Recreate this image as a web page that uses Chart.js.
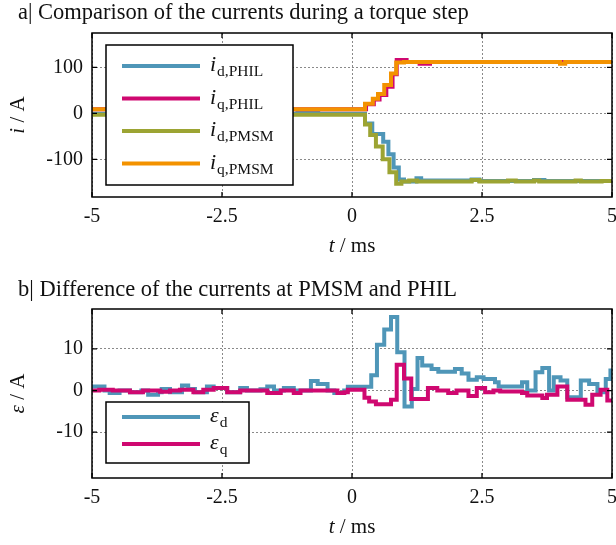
<!DOCTYPE html>
<html><head><meta charset="utf-8">
<script src="https://cdn.jsdelivr.net/npm/chart.js@4/dist/chart.umd.min.js"></script>
<style>
html,body{margin:0;padding:0;background:#fff;}
#wrap{position:relative;width:616px;height:545px;overflow:hidden;}
canvas{position:absolute;left:0;}
</style></head><body>
<div id="wrap">
<canvas id="ca" width="616" height="272" style="top:0"></canvas>
<canvas id="cb" width="616" height="273" style="top:272px"></canvas>
</div>
<script>
// ---------- data (time in ms, current in A) ----------
const xTickValues = [-5, -2.5, 0, 2.5, 5];
const xTickLabels = ['-5', '-2.5', '0', '2.5', '5'];
const yTicksA = [-100, 0, 100];
const yTicksB = [-10, 0, 10];

const titleA = 'a| Comparison of the currents during a torque step';
const titleB = 'b| Difference of the currents at PMSM and PHIL';

// panel a
const idPHIL_t = [-5, -1.05, -0.65, 0.25, 0.39, 0.60, 0.70, 0.80, 0.90, 1.00, 1.24, 1.33, 2.30, 2.45, 3.50, 3.70, 5];
const idPHIL_v = [-1, 2, -1, -22, -45, -62, -89, -118, -144, -148, -141, -146, -144, -147, -145, -147, -147];
const iqPHIL_t = [-5, 0.27, 0.42, 0.53, 0.66, 0.78, 0.86, 1.05, 1.30, 1.50, 5];
const iqPHIL_v = [9, 20, 30, 40, 58, 85, 116, 112, 108, 112, 112];
const idPMSM_t = [-5, 0.25, 0.35, 0.46, 0.59, 0.72, 0.85, 0.95, 1.10, 1.25, 2.30, 2.45, 3.00, 3.15, 3.50, 3.60, 4.30, 4.40, 4.80, 5];
const idPMSM_v = [-3, -24, -47, -72, -100, -128, -153, -148, -146, -148, -145, -148, -146, -148, -146, -148, -146, -148, -147, -147];
const iqPMSM_t = [-5, 0.25, 0.40, 0.50, 0.62, 0.75, 0.85, 1.00, 4.00, 4.10, 5];
const iqPMSM_v = [9, 21, 32, 42, 62, 87, 111, 112, 108, 112, 112];

// panel b
const epsD_t = [-5, -4.76, -4.66, -4.47, -4.27, -4.05, -3.92, -3.73, -3.66, -3.50, -3.27, -3.15, -3.02, -2.79, -2.66, -2.40, -2.15, -2.02, -1.76, -1.63, -1.50, -1.31, -1.12, -0.79, -0.66, -0.47, -0.34, -0.15, -0.08, 0.37, 0.48, 0.62, 0.75, 0.87, 1.01, 1.15, 1.26, 1.35, 1.53, 1.66, 1.98, 2.11, 2.24, 2.40, 2.53, 2.75, 2.82, 3.27, 3.37, 3.53, 3.66, 3.79, 3.88, 4.01, 4.14, 4.40, 4.56, 4.72, 4.88, 4.97, 5];
const epsD_v = [1.0, 0, -0.6, 0, -0.4, 0, -1.0, -0.4, 0.4, -0.4, 1.2, 0.4, -0.4, 1.0, 0.6, -0.4, 0.6, 0, 0.3, 1.0, 0, 0.6, 0, 2.3, 1.6, 0, -0.6, 0, 0.9, 3.7, 11, 14.7, 17.7, 9.2, -3.8, 0.4, 7.8, 6.0, 5.2, 4.5, 5.2, 4.1, 2.6, 3.2, 2.8, 2.0, 1.0, 2.0, 0, 4.4, 5.4, 0, 3.2, 2.4, -1.6, 2.4, 1.6, -0.4, 2.8, 4.8, 4.8];
const epsQ_t = [-5, -4.86, -4.60, -4.27, -4.02, -3.69, -3.50, -3.31, -3.05, -2.86, -2.66, -2.40, -2.15, -1.63, -1.37, -1.12, -0.99, -0.28, -0.15, -0.08, 0.24, 0.33, 0.46, 0.75, 0.86, 1.00, 1.14, 1.46, 1.64, 1.85, 2.01, 2.24, 2.40, 2.56, 2.72, 2.85, 3.27, 3.37, 3.66, 3.75, 3.95, 4.14, 4.49, 4.62, 4.78, 4.91, 5];
const epsQ_v = [0, 0.2, 0, -0.4, 0, -0.25, 0, 0.2, -0.4, 0.2, 0.6, -0.4, 0, -0.6, 0, -0.6, 0, -0.6, -0.4, 0.2, -1.7, -2.6, -3.3, -2.2, 6.2, 2.9, -2.0, 0.6, 0, -0.6, 0, -1.3, 0.6, -0.4, 0, -0.2, -0.6, -1.2, -1.8, -1.0, 1.0, -2.2, -3.4, -1.0, 0.2, -2.4, -2.4];

// ---------- styling ----------
const FONT = '"Liberation Serif", "Times New Roman", serif';
const C_BLUE = '#4f96b8', C_PINK = '#cf0870', C_OLIVE = '#9ca433', C_ORANGE = '#f39200';

function pts(ts, vs) { return ts.map((t, i) => ({x: t, y: vs[i]})); }

function ds(label, ts, vs, color, order) {
  return {label, data: pts(ts, vs), borderColor: color, backgroundColor: color,
    borderWidth: 4, pointRadius: 0, stepped: true, tension: 0, fill: false, order};
}

const deco = {
  id: 'deco',
  afterDraw(chart, args, o) {
    const ctx = chart.ctx, a = chart.chartArea;
    const xs = chart.scales.x, ys = chart.scales.y;
    ctx.save();
    ctx.strokeStyle = '#000'; ctx.lineWidth = 1.5;
    ctx.strokeRect(a.left, a.top, a.right - a.left, a.bottom - a.top);
    ctx.lineWidth = 1.3;
    ctx.beginPath();
    o.xTicks.forEach(v => { const p = xs.getPixelForValue(v);
      ctx.moveTo(p, a.top); ctx.lineTo(p, a.top + 5); ctx.moveTo(p, a.bottom); ctx.lineTo(p, a.bottom - 5); });
    o.yTicks.forEach(v => { const p = ys.getPixelForValue(v);
      ctx.moveTo(a.left, p); ctx.lineTo(a.left + 5, p); ctx.moveTo(a.right, p); ctx.lineTo(a.right - 5, p); });
    ctx.stroke();
    // legend
    const L = o.legend;
    ctx.fillStyle = '#fff'; ctx.fillRect(L.x, L.y, L.w, L.h);
    ctx.strokeStyle = '#000'; ctx.lineWidth = 1.5; ctx.strokeRect(L.x, L.y, L.w, L.h);
    L.items.forEach((it, i) => {
      const y = L.y + L.first + i * L.gap;
      ctx.strokeStyle = it.color; ctx.lineWidth = 4;
      ctx.beginPath(); ctx.moveTo(L.x + 16, y); ctx.lineTo(L.x + 94, y); ctx.stroke();
      ctx.fillStyle = '#111'; ctx.textBaseline = 'alphabetic'; ctx.textAlign = 'left';
      ctx.font = 'italic 22px ' + FONT;
      ctx.fillText(it.main, L.x + 104, y + 5);
      const w = ctx.measureText(it.main).width;
      ctx.font = '15.5px ' + FONT;
      ctx.fillText(it.sub, L.x + 104 + w + 1, y + 10);
    });
    // axis titles
    ctx.fillStyle = '#111'; ctx.textBaseline = 'middle'; ctx.textAlign = 'left';
    const drawMixed = (parts, cx, cy, rot) => {
      ctx.save(); ctx.translate(cx, cy); if (rot) ctx.rotate(-Math.PI / 2);
      let tw = 0;
      parts.forEach(p => { ctx.font = p.f; tw += ctx.measureText(p.t).width; });
      let x = -tw / 2;
      parts.forEach(p => { ctx.font = p.f; ctx.fillText(p.t, x, 0); x += ctx.measureText(p.t).width; });
      ctx.restore();
    };
    drawMixed([{t: 't', f: 'italic 21px ' + FONT}, {t: ' / ms', f: '21px ' + FONT}],
      (a.left + a.right) / 2, o.xTitleY, false);
    drawMixed([{t: o.yVar, f: 'italic 21px ' + FONT}, {t: ' / A', f: '21px ' + FONT}],
      18, (a.top + a.bottom) / 2, true);
    ctx.restore();
  }
};

function makeChart(id, title, datasets, yMin, yMax, yTicks, lay, decoOpts) {
  return new Chart(document.getElementById(id), {
    type: 'line',
    data: {datasets},
    plugins: [deco],
    options: {
      responsive: false, animation: false, devicePixelRatio: 1,
      layout: {padding: {left: 18, right: 4, top: lay.padTop, bottom: 0}},
      plugins: {
        legend: {display: false}, tooltip: {enabled: false},
        title: {display: true, text: title, align: 'start', color: '#111',
          font: {family: FONT, size: 22.5, weight: 'normal', lineHeight: 1.2},
          padding: {top: 0, bottom: lay.titleBottom}},
        deco: decoOpts
      },
      scales: {
        x: {type: 'linear', min: -5, max: 5,
          afterBuildTicks: s => { s.ticks = xTickValues.map(v => ({value: v})); },
          afterFit: s => { s.height = lay.xH; s.paddingLeft = 0; s.paddingRight = 0; },
          ticks: {callback: (v) => xTickLabels[xTickValues.indexOf(v)], padding: 8, color: '#111',
            font: {family: FONT, size: 20}, maxRotation: 0},
          grid: {color: '#8a8a8a', lineWidth: 1, drawTicks: false},
          border: {display: false, dash: [2, 2]}},
        y: {type: 'linear', min: yMin, max: yMax,
          afterBuildTicks: s => { s.ticks = yTicks.map(v => ({value: v})); },
          afterFit: s => { s.width = 74; s.paddingTop = 0; s.paddingBottom = 0; },
          ticks: {callback: v => String(v), padding: 9, color: '#111', font: {family: FONT, size: 20}},
          grid: {color: '#8a8a8a', lineWidth: 1, drawTicks: false},
          border: {display: false, dash: [2, 2]}}
      }
    }
  });
}

makeChart('ca', titleA, [
  ds('i_d,PHIL', idPHIL_t, idPHIL_v, C_BLUE, 4),
  ds('i_q,PHIL', iqPHIL_t, iqPHIL_v, C_PINK, 3),
  ds('i_d,PMSM', idPMSM_t, idPMSM_v, C_OLIVE, 2),
  ds('i_q,PMSM', iqPMSM_t, iqPMSM_v, C_ORANGE, 1)
], -182, 175, yTicksA, {padTop: 0, titleBottom: 6, xH: 75}, {
  xTicks: xTickValues, yTicks: yTicksA, xTitleY: 246, yVar: 'i',
  legend: {x: 106, y: 45, w: 187, h: 140, first: 21, gap: 32.5, items: [
    {main: 'i', sub: 'd,PHIL', color: C_BLUE},
    {main: 'i', sub: 'q,PHIL', color: C_PINK},
    {main: 'i', sub: 'd,PMSM', color: C_OLIVE},
    {main: 'i', sub: 'q,PMSM', color: C_ORANGE}]}
});

makeChart('cb', titleB, [
  ds('ε_d', epsD_t, epsD_v, C_BLUE, 2),
  ds('ε_q', epsQ_t, epsQ_v, C_PINK, 1)
], -21, 19.6, yTicksB, {padTop: 5, titleBottom: 5, xH: 67}, {
  xTicks: xTickValues, yTicks: yTicksB, xTitleY: 255, yVar: 'ε',
  legend: {x: 106, y: 130, w: 143, h: 61, first: 15, gap: 27, items: [
    {main: 'ε', sub: 'd', color: C_BLUE},
    {main: 'ε', sub: 'q', color: C_PINK}]}
});
</script>
</body></html>
